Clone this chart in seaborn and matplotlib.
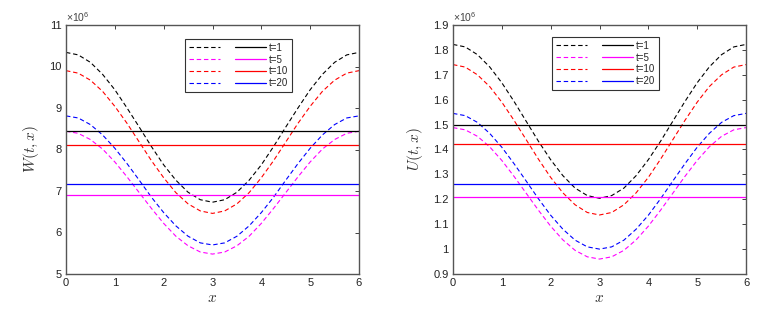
import numpy as np
import pandas as pd
import matplotlib
matplotlib.use("Agg")
import matplotlib.pyplot as plt
from matplotlib.lines import Line2D
import seaborn as sns

sns.set_style("white")
plt.rcParams['font.family'] = ['Liberation Sans', 'DejaVu Sans']
plt.rcParams['mathtext.fontset'] = 'cm'

# x positions of the curves
x_grid = [0, 0.25, 0.5, 0.75, 1, 1.25, 1.5, 1.75, 2, 2.25, 2.5, 2.75, 3,
          3.25, 3.5, 3.75, 4, 4.25, 4.5, 4.75, 5, 5.25, 5.5, 5.75, 6]

labels = ["t=1", "t=5", "t=10", "t=20"]
colors = ["black", "magenta", "red", "blue"]


def mirror(half):
    return half + half[-2::-1]


# W(t,x) in units of 1e6, dashed curves (x from 0 to 3, mirrored to 6)
w_black = mirror([10.34, 10.28, 10.10, 9.81, 9.44, 9.00, 8.54, 8.07, 7.63, 7.26, 6.97, 6.79, 6.73])
w_red = mirror([9.90, 9.84, 9.67, 9.40, 9.04, 8.63, 8.18, 7.73, 7.32, 6.96, 6.69, 6.52, 6.46])
w_blue = mirror([8.81, 8.76, 8.60, 8.35, 8.03, 7.66, 7.26, 6.85, 6.48, 6.16, 5.91, 5.75, 5.70])
w_magenta = mirror([8.44, 8.39, 8.24, 8.01, 7.70, 7.34, 6.96, 6.58, 6.22, 5.91, 5.68, 5.53, 5.48])
# constant levels (solid lines)
w_levels = {"black": 8.45, "red": 8.10, "blue": 7.18, "magenta": 6.90}

# U(t,x) in units of 1e6
u_black = mirror([1.822, 1.812, 1.781, 1.732, 1.668, 1.593, 1.513, 1.433, 1.359, 1.295, 1.245, 1.215, 1.204])
u_red = mirror([1.741, 1.731, 1.700, 1.653, 1.590, 1.517, 1.439, 1.361, 1.288, 1.226, 1.178, 1.147, 1.137])
u_blue = mirror([1.545, 1.536, 1.509, 1.465, 1.409, 1.343, 1.273, 1.202, 1.136, 1.080, 1.036, 1.009, 1.000])
u_magenta = mirror([1.488, 1.479, 1.453, 1.411, 1.356, 1.292, 1.224, 1.156, 1.092, 1.037, 0.995, 0.969, 0.960])
u_levels = {"black": 1.497, "red": 1.423, "blue": 1.260, "magenta": 1.210}

w_ticks = [5, 6, 7, 8, 9, 10, 11]
u_ticks = [0.9, 1.0, 1.1, 1.2, 1.3, 1.4, 1.5, 1.6, 1.7, 1.8, 1.9]
u_ticklabels = ["0.9", "1", "1.1", "1.2", "1.3", "1.4", "1.5", "1.6", "1.7", "1.8", "1.9"]
x_ticks = [0, 1, 2, 3, 4, 5, 6]

fig = plt.figure(figsize=(7.82, 3.16), dpi=100)
ax1 = fig.add_axes([66 / 782, 42 / 316, 293 / 782, 249 / 316])
ax2 = fig.add_axes([453 / 782, 42 / 316, 293 / 782, 249 / 316])

panels = [
    (ax1, {"black": w_black, "red": w_red, "blue": w_blue, "magenta": w_magenta}, w_levels,
     r"$W(t,x)$", w_ticks, [str(t) for t in w_ticks], (0.406, 0.944)),
    (ax2, {"black": u_black, "red": u_red, "blue": u_blue, "magenta": u_magenta}, u_levels,
     r"$U(t,x)$", u_ticks, u_ticklabels, (0.338, 0.952)),
]

for ax, curves, levels, ylab, yt, ytl, legpos in panels:
    for c, vals in curves.items():
        df = pd.DataFrame({"x": x_grid, "y": vals})
        sns.lineplot(data=df, x="x", y="y", color=c, lw=0.8,
                     linestyle=(0, (4, 2.5)), ax=ax)
    for c, lev in levels.items():
        sns.lineplot(x=[0, 6], y=[lev, lev], color=c, lw=0.9, ax=ax)

    ax.set_xlim(0, 6)
    ax.set_ylim(yt[0], yt[-1])
    ax.set_xticks(x_ticks)
    ax.set_yticks(yt)
    ax.set_yticklabels(ytl)
    ax.set_xlabel(r"$x$", fontsize=11, color="#333333", labelpad=2)
    ax.set_ylabel(ylab, fontsize=11, color="#333333", labelpad=6)
    ax.tick_params(direction="in", top=True, right=True, length=3, width=0.6,
                   labelsize=8, pad=3, colors="#222222")
    for sp in ax.spines.values():
        sp.set_color("#555555")
        sp.set_linewidth(1.0)
    ax.text(0.0, 1.005, r"$\mathregular{\times10^{6}}$", transform=ax.transAxes,
            fontsize=7.5, ha="left", va="bottom", color="#444444")

    handles = [Line2D([], [], color=c, lw=0.8, linestyle=(0, (4, 2.5))) for c in colors]
    handles += [Line2D([], [], color=c, lw=0.9) for c in colors]
    leg = ax.legend(handles, [""] * 4 + labels, ncol=2, loc="upper left",
                    bbox_to_anchor=legpos, fontsize=7, handlelength=3.2,
                    handletextpad=0.25, columnspacing=1.3, labelspacing=0.18,
                    borderpad=0.4, fancybox=False, frameon=True, borderaxespad=0)
    leg.get_frame().set_edgecolor("black")
    leg.get_frame().set_linewidth(0.8)

fig.savefig("out.png", dpi=100)
